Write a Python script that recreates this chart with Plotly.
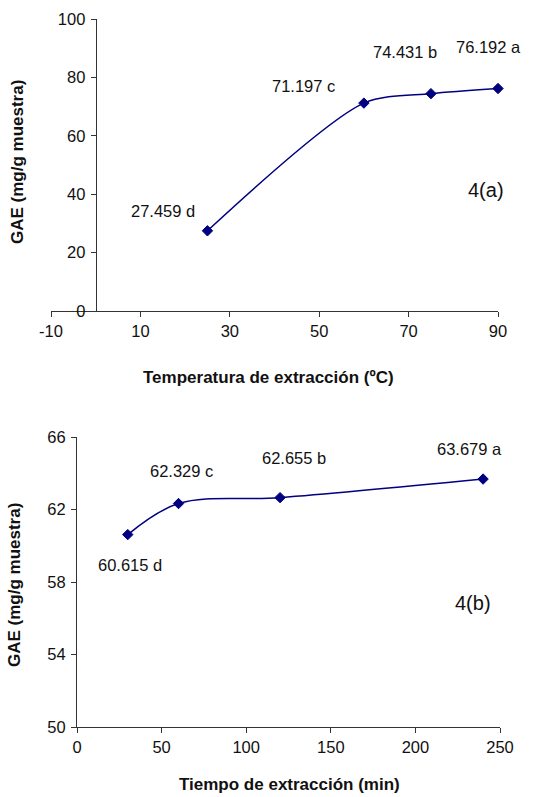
import plotly.graph_objects as go

# ---- data ----
temp_x = [25, 60, 75, 90]
temp_y = [27.459, 71.197, 74.431, 76.192]
temp_letters = ["d", "c", "b", "a"]
temp_xticks = [-10, 10, 30, 50, 70, 90]
temp_xticklabels = ["-10", "10", "30", "50", "70", "90"]
temp_yticks = [0, 20, 40, 60, 80, 100]

time_x = [30, 60, 120, 240]
time_y = [60.615, 62.329, 62.655, 63.679]
time_letters = ["d", "c", "b", "a"]
time_xticks = [0, 50, 100, 150, 200, 250]
time_yticks = [50, 54, 58, 62, 66]

# label offsets (px) relative to each point
temp_shift = [(-44, 20), (-60, 17), (-26, 42), (-10, 42)]
time_shift = [(2, -30), (3, 33), (14, 40), (-14, 30)]

W, H = 538, 797
FONT = "Liberation Sans, Arial, sans-serif"
NAVY = "#000080"
AX = "#333333"
TXT = "#111111"

# domains (paper fractions)
xd1 = [51 / W, 498 / W]
yd1 = [1 - 311 / H, 1 - 19 / H]
xd2 = [77 / W, 500 / W]
yd2 = [1 - 727 / H, 1 - 437 / H]

xr1 = [-10, 90]
yaxis1_pos = xd1[0] + (0 - xr1[0]) / (xr1[1] - xr1[0]) * (xd1[1] - xd1[0])

fig = go.Figure()
mk = dict(symbol="diamond", size=8, color=NAVY, line=dict(color=NAVY, width=1))
fig.add_trace(go.Scatter(x=temp_x, y=temp_y, mode="lines+markers",
                         line=dict(color=NAVY, width=1.5, shape="spline", smoothing=0.8),
                         marker=mk, xaxis="x", yaxis="y", showlegend=False,
                         cliponaxis=False))
fig.add_trace(go.Scatter(x=time_x, y=time_y, mode="lines+markers",
                         line=dict(color=NAVY, width=1.5, shape="spline", smoothing=1),
                         marker=mk, xaxis="x2", yaxis="y2", showlegend=False,
                         cliponaxis=False))

common = dict(showgrid=False, zeroline=False, showline=True, linecolor=AX, linewidth=1,
              ticks="outside", tickcolor=AX, ticklen=5, tickwidth=1, automargin=False,
              tickfont=dict(family=FONT, size=16.5, color=TXT))

fig.update_layout(
    template="none",
    width=W, height=H, margin=dict(l=0, r=0, t=0, b=0, pad=0, autoexpand=False),
    paper_bgcolor="white", plot_bgcolor="white",
    xaxis=dict(domain=xd1, range=xr1, tickvals=temp_xticks, ticktext=temp_xticklabels,
               anchor="y", **common),
    yaxis=dict(domain=yd1, range=[0, 100], tickvals=temp_yticks, anchor="free",
               position=yaxis1_pos, ticklabelstandoff=2, **common),
    xaxis2=dict(domain=xd2, range=[0, 250], tickvals=time_xticks, anchor="y2", **common),
    yaxis2=dict(domain=yd2, range=[50, 66], tickvals=time_yticks, anchor="x2",
                ticklabelstandoff=2, **common),
)

ann = []
for x, y, l, (dx, dy) in zip(temp_x, temp_y, temp_letters, temp_shift):
    ann.append(dict(x=x, y=y, xref="x", yref="y", text=f"{y:.3f} {l}", showarrow=False,
                    xanchor="center", yanchor="middle",
                    xshift=dx, yshift=dy, font=dict(family=FONT, size=16.5, color=TXT)))
for x, y, l, (dx, dy) in zip(time_x, time_y, time_letters, time_shift):
    ann.append(dict(x=x, y=y, xref="x2", yref="y2", text=f"{y:.3f} {l}", showarrow=False,
                    xanchor="center", yanchor="middle",
                    xshift=dx, yshift=dy, font=dict(family=FONT, size=16.5, color=TXT)))

pa = dict(xref="paper", yref="paper", showarrow=False, xanchor="center", yanchor="middle")
ann.append(dict(x=486 / W, y=1 - 190 / H, text="4(a)",
                font=dict(family=FONT, size=20, color=TXT), **pa))
ann.append(dict(x=473 / W, y=1 - 603 / H, text="4(b)",
                font=dict(family=FONT, size=20, color=TXT), **pa))

tfont = dict(family=FONT, size=17, color=TXT, weight="bold")
ann.append(dict(x=18 / W, y=1 - 162 / H, text="GAE (mg/g muestra)", textangle=-90,
                font=tfont, **pa))
ann.append(dict(x=268 / W, y=1 - 377 / H, text="Temperatura de extracción (ºC)",
                font=tfont, **pa))
ann.append(dict(x=14 / W, y=1 - 585 / H, text="GAE (mg/g muestra)", textangle=-90,
                font=tfont, **pa))
ann.append(dict(x=289 / W, y=1 - 784 / H, text="Tiempo de extracción (min)",
                font=tfont, **pa))

fig.update_layout(annotations=ann)
fig.write_html("out.html")
